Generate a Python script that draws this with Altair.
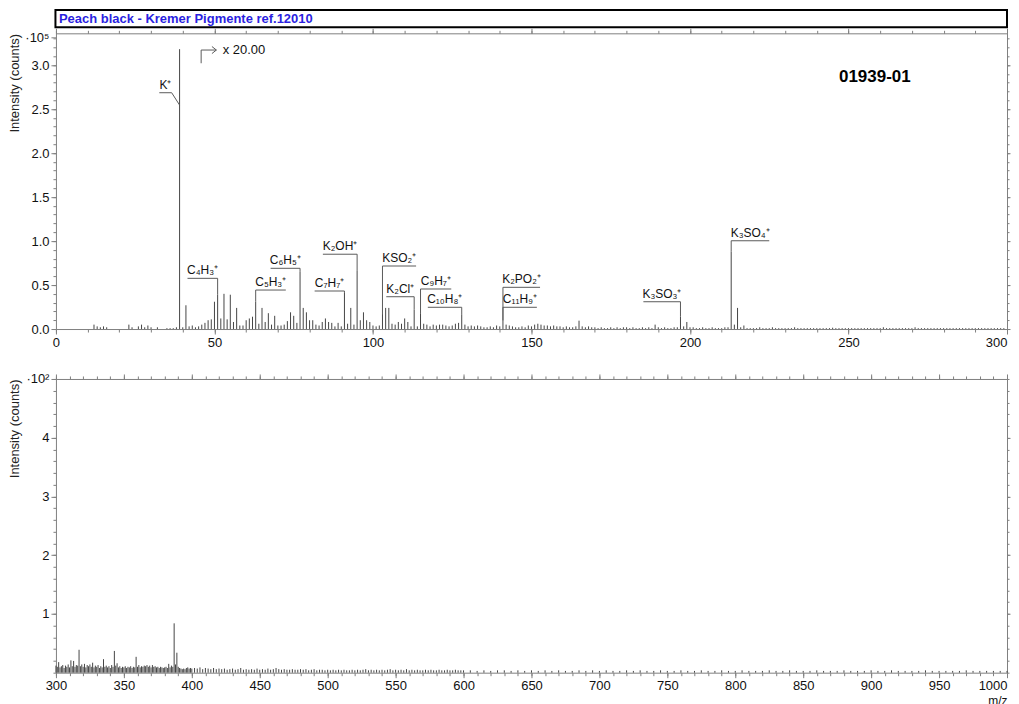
import altair as alt
import pandas as pd

FONT = "Liberation Sans"
AXC = "#808080"
LINE = "#454545"
ANN = "#5a5a5a"
TXT = "#111111"

# ---------------- upper panel: m/z 0-300, intensity in 1e5 counts ----------------
low_mz = [12, 13, 14, 15, 16, 23, 24, 26, 27, 28, 29, 30, 32, 35, 36, 37, 38, 39]
low_h = [0.05, 0.03, 0.02, 0.03, 0.02, 0.05, 0.02, 0.03, 0.05, 0.02, 0.04, 0.02,
         0.02, 0.01, 0.01, 0.01, 0.02, 3.18]

mid_mz = list(range(40, 130))
mid_h = [
    0.02, 0.27, 0.03, 0.04, 0.02, 0.03, 0.05, 0.07, 0.10, 0.11,   # 40-49
    0.31, 0.39, 0.12, 0.40, 0.11, 0.39, 0.08, 0.24, 0.04, 0.04,   # 50-59
    0.10, 0.12, 0.14, 0.31, 0.06, 0.24, 0.08, 0.18, 0.05, 0.15,   # 60-69
    0.04, 0.04, 0.05, 0.09, 0.19, 0.15, 0.07, 0.65, 0.24, 0.19,   # 70-79
    0.10, 0.10, 0.05, 0.04, 0.08, 0.12, 0.08, 0.07, 0.03, 0.07,   # 80-89
    0.03, 0.41, 0.06, 0.24, 0.05, 0.66, 0.10, 0.19, 0.10, 0.08,   # 90-99
    0.04, 0.03, 0.04, 0.17, 0.24, 0.24, 0.06, 0.05, 0.08, 0.06,   # 100-109
    0.12, 0.08, 0.03, 0.22, 0.03, 0.18, 0.06, 0.05, 0.03, 0.05,   # 110-119
    0.04, 0.05, 0.05, 0.04, 0.03, 0.04, 0.06, 0.07, 0.16, 0.05,   # 120-129
]

high_mz = list(range(130, 300))
high_h = [
    0.03, 0.04, 0.03, 0.04, 0.03, 0.02, 0.02, 0.03, 0.02, 0.04,   # 130
    0.03, 0.095, 0.05, 0.04, 0.03, 0.02, 0.02, 0.03, 0.02, 0.04,  # 140
    0.03, 0.05, 0.06, 0.05, 0.04, 0.04, 0.03, 0.04, 0.03, 0.03,   # 150
    0.02, 0.03, 0.02, 0.02, 0.03, 0.095, 0.03, 0.02, 0.03, 0.02,  # 160
    0.02, 0.01, 0.02, 0.01, 0.01, 0.02, 0.01, 0.02, 0.01, 0.02,   # 170
    0.02, 0.01, 0.02, 0.01, 0.01, 0.02, 0.01, 0.02, 0.01, 0.05,   # 180
    0.02, 0.01, 0.02, 0.01, 0.01, 0.02, 0.02, 0.14, 0.03, 0.08,   # 190
    0.02, 0.02, 0.01, 0.01, 0.02, 0.01, 0.01, 0.02, 0.01, 0.01,   # 200
    0.01, 0.02, 0.02, 0.88, 0.05, 0.24, 0.02, 0.04, 0.01, 0.01,   # 210
    0.01, 0.01, 0.02, 0.01, 0.01, 0.01, 0.02, 0.01, 0.01, 0.01,   # 220
    0.01, 0.01, 0.01, 0.02, 0.01, 0.01, 0.01, 0.01, 0.01, 0.01,   # 230
    0.01, 0.01, 0.01, 0.01, 0.01, 0.015, 0.01, 0.01, 0.01, 0.01,  # 240
    0.01, 0.01, 0.01, 0.01, 0.01, 0.01, 0.01, 0.01, 0.01, 0.01,   # 250
    0.01, 0.02, 0.01, 0.01, 0.01, 0.01, 0.01, 0.01, 0.01, 0.01,   # 260
    0.01, 0.02, 0.01, 0.01, 0.01, 0.01, 0.01, 0.01, 0.01, 0.01,   # 270
    0.01, 0.01, 0.01, 0.01, 0.01, 0.01, 0.01, 0.01, 0.01, 0.01,   # 280
    0.01, 0.01, 0.01, 0.01, 0.01, 0.01, 0.01, 0.01, 0.01, 0.01,   # 290
]

# peak labels: text, line start, line end, line level, connector m/z, peak top
ann_label = ["C₄H₃⁺", "C₅H₃⁺", "C₆H₅⁺", "C₇H₇⁺", "K₂OH⁺", "KSO₂⁺", "K₂Cl⁺",
             "C₉H₇⁺", "C₁₀H₈⁺", "K₂PO₂⁺", "C₁₁H₉⁺", "K₃SO₃⁺", "K₃SO₄⁺"]
ann_x1 = [41.5, 63.0, 67.7, 81.6, 84.2, 103.0, 104.2, 115.0, 117.3, 141.0, 141.0, 185.3, 213.0]
ann_x2 = [51.0, 72.5, 77.0, 91.0, 95.0, 113.6, 113.0, 124.7, 128.0, 152.7, 151.7, 197.0, 225.0]
ann_y = [0.576, 0.443, 0.69, 0.432, 0.85, 0.716, 0.367, 0.455, 0.247, 0.474, 0.247, 0.31, 1.003]
ann_xc = [51, 63, 77, 91, 95, 103, 113, 115, 128, 141, 141, 197, 213]
ann_top = [0.39, 0.31, 0.65, 0.41, 0.66, 0.17, 0.22, 0.18, 0.16, 0.095, 0.095, 0.14, 0.88]

# K+ label with bent leader
k_label = ["K⁺"]
k_x1, k_x2, k_y = [32.6], [36.5], [2.685]
k_leader = [(36.5, 2.685, 39.0, 2.545)]

# "x 20.00" magnification marker
mag_text = ["x 20.00"]
mag_pos = (52.6, 3.17)
mag_lines = [(45.8, 3.02, 45.8, 3.17), (45.8, 3.17, 50.6, 3.17),
             (49.2, 3.21, 50.6, 3.17), (49.2, 3.13, 50.6, 3.17)]

sample_id = ["01939-01"]
sample_pos = (258.3, 2.86)
header_text = ["Peach black - Kremer Pigmente ref.12010"]

# ---------------- lower panel: m/z 300-1000, intensity in 1e2 counts ----------------
b1_mz = list(range(300, 401))
b1_h = [
    0.12, 0.10, 0.18, 0.09, 0.11, 0.13, 0.08, 0.12, 0.10, 0.14,   # 300
    0.09, 0.21, 0.11, 0.20, 0.10, 0.13, 0.12, 0.39, 0.11, 0.14,   # 310
    0.10, 0.15, 0.09, 0.13, 0.11, 0.14, 0.10, 0.17, 0.09, 0.12,   # 320
    0.10, 0.13, 0.08, 0.11, 0.09, 0.23, 0.10, 0.12, 0.09, 0.11,   # 330
    0.08, 0.13, 0.10, 0.37, 0.12, 0.16, 0.09, 0.11, 0.08, 0.10,   # 340
    0.09, 0.11, 0.08, 0.10, 0.09, 0.11, 0.08, 0.10, 0.09, 0.27,   # 350
    0.10, 0.13, 0.09, 0.11, 0.10, 0.12, 0.11, 0.13, 0.10, 0.12,   # 360
    0.09, 0.13, 0.10, 0.11, 0.09, 0.10, 0.08, 0.10, 0.09, 0.08,   # 370
    0.09, 0.10, 0.08, 0.15, 0.09, 0.12, 0.10, 0.84, 0.14, 0.34,   # 380
    0.10, 0.08, 0.07, 0.06, 0.07, 0.06, 0.08, 0.09, 0.07, 0.08,   # 390
    0.07,                                                          # 400
]
b2_mz = list(range(402, 601, 2))
b2_h = [
    0.08, 0.07, 0.09, 0.06, 0.08, 0.07, 0.06, 0.08, 0.06, 0.07,
    0.06, 0.07, 0.05, 0.06, 0.07, 0.05, 0.06, 0.08, 0.05, 0.06,
    0.05, 0.06, 0.05, 0.07, 0.05, 0.06, 0.05, 0.07, 0.05, 0.06,
    0.08, 0.06, 0.05, 0.06, 0.05, 0.05, 0.06, 0.05, 0.05, 0.06,
    0.05, 0.06, 0.04, 0.05, 0.06, 0.04, 0.05, 0.05, 0.04, 0.05,
    0.04, 0.05, 0.04, 0.05, 0.04, 0.05, 0.04, 0.04, 0.05, 0.04,
    0.05, 0.04, 0.05, 0.06, 0.04, 0.05, 0.04, 0.05, 0.04, 0.05,
    0.04, 0.05, 0.06, 0.04, 0.05, 0.04, 0.05, 0.04, 0.06, 0.04,
    0.05, 0.04, 0.05, 0.04, 0.04, 0.05, 0.04, 0.05, 0.04, 0.04,
    0.05, 0.04, 0.04, 0.05, 0.04, 0.04, 0.05, 0.04, 0.04, 0.04,
]
b3_mz = list(range(605, 1001, 5))
b3_h = [
    0.04, 0.03, 0.04, 0.03, 0.04, 0.04, 0.03, 0.04, 0.03, 0.04,
    0.03, 0.04, 0.03, 0.04, 0.03, 0.03, 0.04, 0.03, 0.04, 0.03,
    0.04, 0.03, 0.03, 0.04, 0.03, 0.04, 0.03, 0.03, 0.04, 0.03,
    0.03, 0.04, 0.03, 0.03, 0.04, 0.03, 0.03, 0.04, 0.03, 0.03,
    0.04, 0.03, 0.03, 0.03, 0.04, 0.03, 0.03, 0.04, 0.03, 0.03,
    0.03, 0.04, 0.03, 0.03, 0.03, 0.04, 0.03, 0.03, 0.03, 0.04,
    0.03, 0.03, 0.04, 0.03, 0.03, 0.03, 0.03, 0.04, 0.03, 0.03,
    0.03, 0.03, 0.03, 0.04, 0.03, 0.03, 0.03, 0.03, 0.03, 0.03,
]

# axis ticks
top_xmaj = [0, 50, 100, 150, 200, 250, 300]
top_xmin = list(range(0, 301, 10))
top_ymaj = [0.0, 0.5, 1.0, 1.5, 2.0, 2.5, 3.0]
top_ymin = [round(i * 0.1, 2) for i in range(0, 34)]
top_ylab = top_ymaj + [3.31]
bot_xmaj = list(range(300, 1001, 50))
bot_xmin = list(range(300, 1001, 10))
bot_ymaj = [1, 2, 3, 4]
bot_ymin = [round(i * 0.2, 2) for i in range(0, 26)]
bot_ylab = bot_ymaj + [5]

W = 952
TOP_H = 296
BOT_H = 294

# ---------------- frames ----------------
top_spec = pd.DataFrame({"mz": low_mz + mid_mz + high_mz, "h": low_h + mid_h + high_h})
bot_spec = pd.DataFrame({"mz": b1_mz + b2_mz + b3_mz, "h": b1_h + b2_h + b3_h})

ann = pd.DataFrame({"label": ann_label + k_label, "x1": ann_x1 + k_x1,
                    "x2": ann_x2 + k_x2, "y": ann_y + k_y})
ann["xm"] = (ann["x1"] + ann["x2"]) / 2
segs = [(xc, yl, xc, yt) for xc, yl, yt in zip(ann_xc, ann_y, ann_top)] + k_leader + mag_lines
seg_df = pd.DataFrame(segs, columns=["xa", "ya", "xb", "yb"])


def axis_set(xdom, ydom, xmaj, xmin, ymaj, ymin, ylab, ylabexpr, xtitle):
    sx = alt.Scale(domain=xdom, nice=False, zero=False)
    sy = alt.Scale(domain=ydom, nice=False, zero=False)
    corners = pd.DataFrame({"mz": xdom, "h": ydom})
    common = dict(grid=False, domainColor=AXC, tickColor=AXC, domainWidth=1, tickWidth=1)

    def lay(xa, ya):
        return alt.Chart(corners).mark_point(opacity=0).encode(
            x=alt.X("mz:Q", scale=sx, axis=xa), y=alt.Y("h:Q", scale=sy, axis=ya))

    xt = dict(title=xtitle, titleAnchor="end", titleAlign="right", titlePadding=3,
              titleFontSize=12, titleFontWeight="normal", titleColor=TXT) if xtitle else dict(title=None)
    last = xdom[1]
    main = lay(
        alt.Axis(orient="bottom", values=xmaj, tickSize=5, labelPadding=2, labelFontSize=13,
                 labelFlush=False, labelOverlap=False, labelColor=TXT, format="d",
                 labelAlign={"condition": {"test": f"datum.value >= {last}", "value": "right"},
                             "value": "center"},
                 **xt, **common),
        alt.Axis(orient="left", values=ylab, tickSize=5, labelPadding=2, labelFontSize=13,
                 labelExpr=ylabexpr, labelOverlap=False, labelColor=TXT,
                 title="Intensity (counts)", titleAnchor="end", titleX=-34,
                 titleFontSize=13, titleFontWeight="normal", titleColor="#222222", **common))
    minor = lay(
        alt.Axis(orient="bottom", values=xmin, tickSize=3, labels=False, domain=False, title=None, **common),
        alt.Axis(orient="left", values=ymin, tickSize=3, labels=False, domain=False, title=None, **common))
    mirror = lay(
        alt.Axis(orient="top", values=xmaj, tickSize=5, labels=False, title=None, **common),
        alt.Axis(orient="right", values=ymaj, tickSize=3, labels=False, title=None, **common))
    mirror_min = lay(
        alt.Axis(orient="top", values=xmin, tickSize=3, labels=False, domain=False, title=None, **common),
        alt.Axis(orient="right", values=ymin, tickSize=2, labels=False, domain=False, title=None, **common))
    return sx, sy, [main, minor, mirror, mirror_min]


# ---------------- upper panel ----------------
sx, sy, top_axes = axis_set([0, 300], [0, 3.36], top_xmaj, top_xmin, top_ymaj, top_ymin, top_ylab,
                            "datum.value > 3.2 ? '·10⁵' : format(datum.value, '.1f')", None)

spec_top = alt.Chart(top_spec).mark_rule(color=LINE, strokeWidth=1).encode(
    x=alt.X("mz:Q", scale=sx, axis=None),
    y=alt.Y("h:Q", scale=sy, axis=None),
    y2=alt.datum(0))

hlines = alt.Chart(ann).mark_rule(color=ANN, strokeWidth=1).encode(
    x=alt.X("x1:Q", scale=sx, axis=None), x2="x2:Q",
    y=alt.Y("y:Q", scale=sy, axis=None))

seg_layer = alt.Chart(seg_df).mark_rule(color=ANN, strokeWidth=1).encode(
    x=alt.X("xa:Q", scale=sx, axis=None), x2="xb:Q",
    y=alt.Y("ya:Q", scale=sy, axis=None), y2="yb:Q")

ann_text = alt.Chart(ann).mark_text(font=FONT, fontSize=12, color=TXT, baseline="alphabetic",
                                    dy=-4).encode(
    x=alt.X("xm:Q", scale=sx, axis=None),
    y=alt.Y("y:Q", scale=sy, axis=None),
    text="label:N")

mag = alt.Chart(pd.DataFrame({"t": mag_text, "x": [mag_pos[0]], "y": [mag_pos[1]]})).mark_text(
    font=FONT, fontSize=13, color=TXT, align="left", baseline="middle").encode(
    x=alt.X("x:Q", scale=sx, axis=None), y=alt.Y("y:Q", scale=sy, axis=None), text="t:N")

sid = alt.Chart(pd.DataFrame({"t": sample_id, "x": [sample_pos[0]], "y": [sample_pos[1]]})).mark_text(
    font=FONT, fontSize=17, fontWeight="bold", color="#000000", align="center", baseline="middle").encode(
    x=alt.X("x:Q", scale=sx, axis=None), y=alt.Y("y:Q", scale=sy, axis=None), text="t:N")

hdr = pd.DataFrame({"t": header_text})
hdr_box = alt.Chart(hdr).mark_rect(fillOpacity=0, stroke="#000000", strokeWidth=2).encode(
    x=alt.value(-0.5), x2=alt.value(W), y=alt.value(-23.3), y2=alt.value(-6))
hdr_txt = alt.Chart(hdr).mark_text(font=FONT, fontSize=13, fontWeight="bold", color="#2b1fe0",
                                   align="left", baseline="middle").encode(
    x=alt.value(3), y=alt.value(-14.5), text="t:N")

top = alt.layer(*top_axes, spec_top, hlines, seg_layer, ann_text, mag, sid, hdr_box, hdr_txt).resolve_axis(
    x="independent", y="independent").properties(width=W, height=TOP_H)

# ---------------- lower panel ----------------
bsx, bsy, bot_axes = axis_set([300, 1000], [0, 5], bot_xmaj, bot_xmin, bot_ymaj, bot_ymin, bot_ylab,
                              "datum.value > 4.5 ? '·10²' : format(datum.value, 'd')", "m/z")

spec_bot = alt.Chart(bot_spec).mark_rule(color=LINE, strokeWidth=1).encode(
    x=alt.X("mz:Q", scale=bsx, axis=None),
    y=alt.Y("h:Q", scale=bsy, axis=None),
    y2=alt.datum(0))

bottom = alt.layer(*bot_axes, spec_bot).resolve_axis(
    x="independent", y="independent").properties(width=W, height=BOT_H)

chart = alt.vconcat(top, bottom, spacing=50, bounds="flush").properties(
    padding={"top": 0, "left": 0, "right": 0, "bottom": 0}
).configure_view(strokeWidth=0).configure_axis(labelFont=FONT, titleFont=FONT)

chart.save("out.html", embed_options={"renderer": "svg", "actions": False})
